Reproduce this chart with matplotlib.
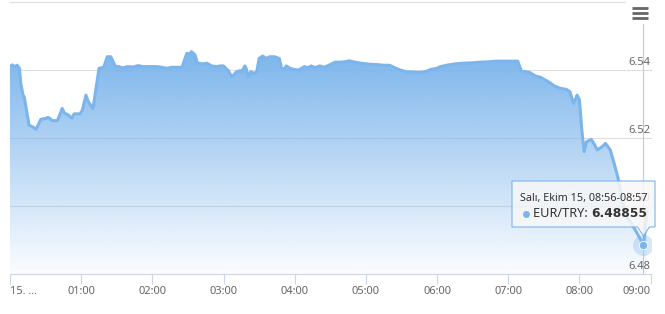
import matplotlib
matplotlib.use("Agg")
import matplotlib.pyplot as plt
import numpy as np
from matplotlib.patches import Polygon, Rectangle
from matplotlib.lines import Line2D
from matplotlib.transforms import IdentityTransform
from matplotlib.colors import to_rgb

# ---------------- data ----------------
minutes = [0, 2, 4, 6, 8, 9, 11, 12, 16, 19,
           22, 26, 31, 32, 36, 40, 44, 46, 49, 52,
           54, 59, 61, 64, 66, 70, 75, 79, 82, 85,
           87, 89, 92, 95, 99, 104, 108, 112, 118, 123,
           128, 132, 136, 140, 145, 149, 151, 153, 156, 158,
           163, 166, 170, 174, 177, 180, 184, 187, 191, 194,
           195, 198, 199, 201, 203, 206, 208, 210, 213, 216,
           219, 223, 227, 229, 231, 233, 236, 239, 243, 246,
           248, 251, 254, 257, 261, 265, 270, 274, 278, 282,
           286, 291, 296, 303, 309, 315, 320, 324, 329, 334,
           340, 346, 351, 355, 360, 362, 368, 375, 382, 389,
           396, 403, 410, 417, 424, 428, 431, 434, 438, 443,
           447, 451, 455, 459, 464, 469, 472, 475, 477, 478,
           480, 482, 484, 486, 490, 493, 495, 499, 502, 506,
           510, 513, 516, 519, 523, 528, 534, 537]

values = [6.5410, 6.5415, 6.5410, 6.5414, 6.5405, 6.5362, 6.5326, 6.5321, 6.5238, 6.5233,
          6.5226, 6.5255, 6.5258, 6.5261, 6.5251, 6.5251, 6.5287, 6.5273, 6.5268, 6.5258,
          6.5271, 6.5271, 6.5282, 6.5326, 6.5307, 6.5287, 6.5405, 6.5408, 6.5439, 6.5439,
          6.5424, 6.5410, 6.5410, 6.5406, 6.5410, 6.5409, 6.5413, 6.5410, 6.5410, 6.5410,
          6.5408, 6.5405, 6.5408, 6.5408, 6.5408, 6.5449, 6.5447, 6.5454, 6.5444, 6.5420,
          6.5418, 6.5420, 6.5412, 6.5410, 6.5412, 6.5412, 6.5398, 6.5380, 6.5395, 6.5398,
          6.5393, 6.5412, 6.5405, 6.5380, 6.5395, 6.5390, 6.5395, 6.5434, 6.5441, 6.5434,
          6.5439, 6.5439, 6.5434, 6.5405, 6.5402, 6.5412, 6.5405, 6.5402, 6.5400, 6.5405,
          6.5410, 6.5407, 6.5412, 6.5407, 6.5412, 6.5408, 6.5416, 6.5423, 6.5423, 6.5424,
          6.5427, 6.5423, 6.5420, 6.5417, 6.5416, 6.5414, 6.5414, 6.5407, 6.5400, 6.5395,
          6.5394, 6.5393, 6.5396, 6.5402, 6.5405, 6.5409, 6.5414, 6.5418, 6.5420, 6.5421,
          6.5423, 6.5424, 6.5426, 6.5426, 6.5426, 6.5426, 6.5397, 6.5395, 6.5393, 6.5382,
          6.5379, 6.5371, 6.5363, 6.5353, 6.5346, 6.5343, 6.5336, 6.5302, 6.5317, 6.5326,
          6.5312, 6.5224, 6.5160, 6.5189, 6.5196, 6.5179, 6.5165, 6.5174, 6.5184, 6.5165,
          6.5116, 6.5076, 6.5018, 6.4974, 6.4953, 6.4924, 6.48855, 6.4985]

ytick_values = [6.48, 6.50, 6.52, 6.54]
ytick_labels = ["6.48", "6.50", "6.52", "6.54"]
grid_values = [6.50, 6.52, 6.54, 6.56]
xtick_minutes = [0, 60, 120, 180, 240, 300, 360, 420, 480, 540]
xtick_labels = ["15. ...", "01:00", "02:00", "03:00", "04:00", "05:00",
                "06:00", "07:00", "08:00", "09:00"]
series_name = "EUR/TRY"
tooltip_header = "Salı, Ekim 15, 08:56-08:57"
hover_minute = 534
hover_value = 6.48855
ymin, ymax = 6.48, 6.56

# ---------------- style ----------------
W, H = 665, 314
FONT = "Noto Sans"
LINE = "#7cb5ec"
LABEL = "#666666"
AXIS = "#ccd6eb"
GRID = "#dedede"

fig = plt.figure(figsize=(W / 100, H / 100), dpi=100)
fig.patch.set_facecolor("white")
ax = fig.add_axes([10 / W, (H - 274) / H, (650.6 - 10) / W, 272 / H])
ax.set_facecolor("none")

# grid
for g in grid_values:
    ax.axhline(g, color=GRID, lw=0.8, zorder=0.5, clip_on=False)

# gradient area fill
rgb = np.array(to_rgb(LINE))
n = 300
ys = np.linspace(ymin, ymax, n)
top_v = max(values)
alpha = np.clip((ys - ymin) / (top_v - ymin), 0, 1) * 0.97 + 0.03
img = np.zeros((n, 1, 4))
img[:, 0, :3] = rgb
img[:, 0, 3] = np.clip(alpha, 0, 1)
im = ax.imshow(img, extent=[minutes[0], minutes[-1], ymin, ymax], origin="lower",
               aspect="auto", zorder=1, interpolation="bilinear")
poly_pts = [(minutes[0], ymin)] + list(zip(minutes, values)) + [(minutes[-1], ymin)]
poly = Polygon(poly_pts, closed=True, facecolor="none", edgecolor="none",
               transform=ax.transData)
ax.add_patch(poly)
im.set_clip_path(poly)

# line
ax.plot(minutes, values, color=LINE, lw=2.2, solid_joinstyle="round",
        solid_capstyle="round", zorder=3)

# crosshair
ax.axvline(hover_minute, color="#c8c8c8", lw=0.8, zorder=2, clip_on=False)

# hovered point
ax.plot([hover_minute], [hover_value], "o", ms=15, color=LINE, alpha=0.3,
        markeredgewidth=0, zorder=4)
ax.plot([hover_minute], [hover_value], "o", ms=6, color=LINE,
        markeredgecolor="white", markeredgewidth=0.6, zorder=5)

ax.set_xlim(0, 540)
ax.set_ylim(ymin, ymax)

# axes styling
for s in ["top", "left", "right"]:
    ax.spines[s].set_visible(False)
ax.spines["bottom"].set_color(AXIS)
ax.spines["bottom"].set_linewidth(0.8)
ax.spines["bottom"].set_zorder(6)
ax.set_yticks([])
ax.set_xticks(xtick_minutes)
ax.set_xticklabels(xtick_labels, fontsize=8, color=LABEL, family=FONT)
ax.tick_params(axis="x", length=7.2, width=0.8, color=AXIS, pad=1.5)
labs = ax.get_xticklabels()
labs[0].set_ha("left")
labs[-1].set_ha("right")

# y labels inside on the right, above gridlines
for v, t in zip(ytick_values, ytick_labels):
    ax.annotate(t, xy=(1, v), xycoords=("axes fraction", "data"),
                xytext=(0, 2), textcoords="offset pixels", ha="right",
                va="bottom", fontsize=8, color=LABEL, family=FONT, zorder=7)

# ---------------- tooltip (display pixel coordinates) ----------------
idt = IdentityTransform()
def P(x, y):
    return (x, H - y)

hx, hy = ax.transData.transform((hover_minute, hover_value))
tip_x = hx
box_l, box_r, box_t, box_b = 512, 655, 181, 227
callout = [P(box_l, box_t), P(box_r, box_t), P(box_r, box_b),
           (tip_x + 6, H - box_b), (tip_x, H - box_b - 9), (tip_x - 6, H - box_b),
           P(box_l, box_b)]
fig.add_artist(Polygon(callout, closed=True, transform=idt,
                       facecolor=(0.97, 0.97, 0.97, 0.86), edgecolor=LINE,
                       lw=0.8, zorder=10, joinstyle="round"))

fig.text(520, H - 198, tooltip_header, transform=idt, fontsize=7.8,
         color="#333333", family=FONT, va="center", ha="left", zorder=11)
fig.add_artist(Line2D([525.5], [H - 213.5], marker="o", ms=5, color=LINE,
                      markeredgewidth=0, transform=idt, zorder=11))
t1 = fig.text(533, H - 213.5, series_name + ": ", transform=idt, fontsize=9.2,
              color="#333333", family=FONT, va="center", ha="left", zorder=11)
renderer = fig.canvas.get_renderer()
bb = t1.get_window_extent(renderer)
fig.text(bb.x1, H - 213.5, f"{hover_value:.5f}", transform=idt, fontsize=8.8,
         color="#333333", family="DejaVu Sans", fontweight="bold", va="center",
         ha="left", zorder=11)

# context menu button
fig.add_artist(Rectangle(P(626, 24), 30, 23, transform=idt, facecolor="white",
                         edgecolor="none", zorder=9))
for yb in [8.3, 13.3, 18.3]:
    fig.add_artist(Line2D([632, 648], [H - yb, H - yb], color="#666666", lw=2.0,
                          solid_capstyle="butt", transform=idt, zorder=10))

fig.savefig("out.png", dpi=100, facecolor="white")
